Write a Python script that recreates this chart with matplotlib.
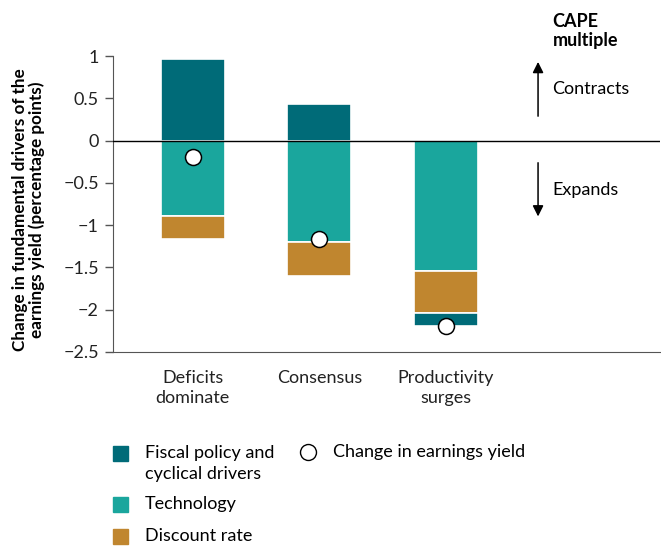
import matplotlib.pyplot as plt
from matplotlib.lines import Line2D
from matplotlib.patches import Rectangle

# data
scenarios = ['Deficits\ndominate', 'Consensus', 'Productivity\nsurges']
fiscal = [0.97, 0.43, -0.16]
technology = [-0.89, -1.20, -1.54]
discount = [-0.28, -0.40, -0.50]
yield_change = [-0.19, -1.17, -2.20]

c_fiscal = '#006b78'
c_tech = '#1aa69d'
c_disc = '#c0862f'

plt.rcParams['font.family'] = ['Lato', 'DejaVu Sans']
fs = 13

fig = plt.figure(figsize=(6.61, 5.48), dpi=100)
ax = fig.add_axes([0.1705, 0.358, 0.828, 0.5396])

x = list(range(len(scenarios)))
w = 0.505
kw = dict(width=w, edgecolor='white', linewidth=1.2, zorder=2)

for i in x:
    # stack negatives downward, positives upward
    neg_base = 0.0
    pos_base = 0.0
    for val, col in [(technology[i], c_tech), (discount[i], c_disc), (fiscal[i], c_fiscal)]:
        if val >= 0:
            ax.bar(i, val, bottom=pos_base, color=col, **kw)
            pos_base += val
        else:
            ax.bar(i, val, bottom=neg_base, color=col, **kw)
            neg_base += val

ax.plot(x, yield_change, 'o', markersize=11.5, markerfacecolor='white',
        markeredgecolor='black', markeredgewidth=1.1, zorder=4)

ax.axhline(0, color='black', linewidth=1.0, zorder=3)

ax.set_xlim(-0.632, 3.69)
ax.set_ylim(-2.5, 1)
ax.set_yticks([1, 0.5, 0, -0.5, -1, -1.5, -2, -2.5])
ax.set_yticklabels(['1', '0.5', '0', '\u22120.5', '\u22121', '\u22121.5', '\u22122', '\u22122.5'])
ax.set_xticks(x)
ax.set_xticklabels(scenarios, linespacing=1.35)
ax.tick_params(axis='x', length=0, pad=13, labelsize=fs, colors='#222222')
ax.tick_params(axis='y', length=6, width=1, color='#555555', labelsize=fs,
               labelcolor='#222222', pad=4)
for s in ['top', 'right']:
    ax.spines[s].set_visible(False)
ax.spines['left'].set_color('#555555')
ax.spines['bottom'].set_color('#555555')

fig.text(0.043, 0.617, 'Change in fundamental drivers of the\nearnings yield (percentage points)',
         rotation=90, ha='center', va='center', fontsize=12.3, fontweight='bold',
         linespacing=1.0)

# CAPE annotation
fig.text(0.836, 0.944, 'CAPE\nmultiple', ha='left', va='center', fontsize=fs,
         fontweight='bold', linespacing=1.15)
ax.annotate('', xy=(0.814, 0.887), xytext=(0.814, 0.788), xycoords='figure fraction',
            arrowprops=dict(arrowstyle='-|>', color='black', lw=1.1,
                            mutation_scale=16, shrinkA=0, shrinkB=0))
fig.text(0.836, 0.837, 'Contracts', ha='left', va='center', fontsize=fs)
ax.annotate('', xy=(0.814, 0.605), xytext=(0.814, 0.703), xycoords='figure fraction',
            arrowprops=dict(arrowstyle='-|>', color='black', lw=1.1,
                            mutation_scale=16, shrinkA=0, shrinkB=0))
fig.text(0.836, 0.654, 'Expands', ha='left', va='center', fontsize=fs)

# legend drawn by hand
sq_w = 15 / 661
sq_h = 15 / 548
legend_rows = [(['Fiscal policy and', 'cyclical drivers'], c_fiscal, 453),
               (['Technology'], c_tech, 504),
               (['Discount rate'], c_disc, 536)]
for lines, col, ypx in legend_rows:
    yc = 1 - ypx / 548
    fig.add_artist(Rectangle((113 / 661, yc - sq_h / 2), sq_w, sq_h,
                             transform=fig.transFigure, color=col))
    for k, line in enumerate(lines):
        fig.text(145 / 661, 1 - (ypx + 21 * k) / 548, line, ha='left',
                 va='center', fontsize=fs)
fig.add_artist(Line2D([308 / 661], [1 - 452 / 548], marker='o', markersize=11.5,
                      markerfacecolor='white', markeredgecolor='black',
                      markeredgewidth=1.0, transform=fig.transFigure))
fig.text(333 / 661, 1 - 452 / 548, 'Change in earnings yield', ha='left',
         va='center', fontsize=fs)

fig.savefig('out.png', dpi=100)
